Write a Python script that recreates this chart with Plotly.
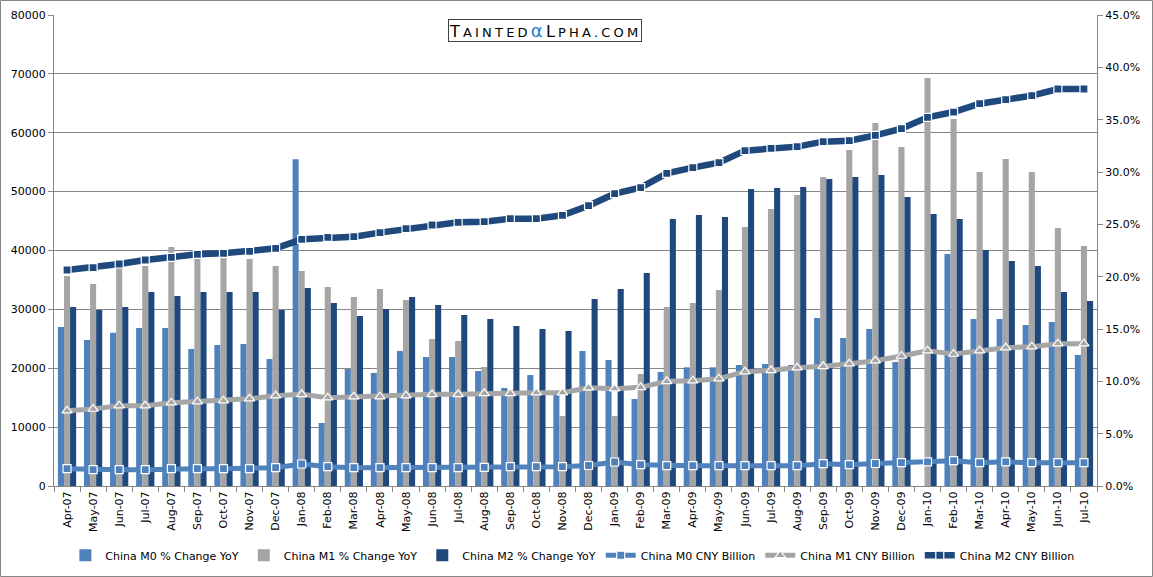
import plotly.graph_objects as go

months = [
    "Apr-07", "May-07", "Jun-07", "Jul-07", "Aug-07", "Sep-07", "Oct-07", "Nov-07", "Dec-07",
    "Jan-08", "Feb-08", "Mar-08", "Apr-08", "May-08", "Jun-08", "Jul-08", "Aug-08", "Sep-08",
    "Oct-08", "Nov-08", "Dec-08",
    "Jan-09", "Feb-09", "Mar-09", "Apr-09", "May-09", "Jun-09", "Jul-09", "Aug-09", "Sep-09",
    "Oct-09", "Nov-09", "Dec-09",
    "Jan-10", "Feb-10", "Mar-10", "Apr-10", "May-10", "Jun-10", "Jul-10",
]

# % change YoY (right axis)
m0_yoy = [15.19, 13.95, 14.65, 15.1, 15.1, 13.09, 13.47, 13.57, 12.13,
          31.21, 6.02, 11.18, 10.80, 12.90, 12.32, 12.32, 10.99, 9.36, 10.6, 8.69, 12.90,
          12.04, 8.31, 10.89, 11.34, 11.34, 11.56, 11.66, 11.56, 16.05, 14.14, 15.0, 11.85,
          -1.0, 22.17, 15.96, 15.96, 15.38, 15.67, 12.52]
m1_yoy = [20.06, 19.30, 20.83, 21.02, 22.83, 21.69, 21.75, 21.69, 21.02,
          20.54, 19.01, 18.06, 18.82, 17.77, 14.04, 13.85, 11.37, 9.2, 8.9, 6.69, 9.1,
          6.69, 10.7, 17.10, 17.48, 18.73, 24.74, 26.46, 27.80, 29.52, 32.10, 34.68, 32.39,
          38.98, 35.06, 30.0, 31.24, 30.0, 24.65, 22.93]
m2_yoy = [17.10, 16.81, 17.10, 18.53, 18.15, 18.53, 18.53, 18.53, 16.81,
          18.92, 17.48, 16.24, 16.91, 18.06, 17.29, 16.34, 15.96, 15.29, 15.0, 14.81, 17.87,
          18.82, 20.35, 25.51, 25.89, 25.70, 28.37, 28.47, 28.57, 29.33, 29.52, 29.71, 27.61,
          25.99, 25.51, 22.55, 21.50, 21.02, 18.53, 17.67]

# CNY billion (left axis)
m0_cny = [2940, 2770, 2770, 2770, 2940, 2940, 2940, 2940, 3110,
          3740, 3280, 3110, 3110, 3110, 3110, 3110, 3170, 3280, 3280, 3280, 3480,
          4080, 3620, 3450, 3450, 3450, 3450, 3450, 3450, 3790, 3620, 3820, 3960,
          4100, 4300, 3960, 4100, 3960, 3960, 3960]
m1_cny = [12790, 13080, 13650, 13650, 14150, 14320, 14490, 14830, 15340,
          15570, 15000, 15170, 15170, 15340, 15570, 15570, 15740, 15740, 15850, 15850, 16700,
          16530, 16760, 17780, 17890, 18230, 19420, 19650, 20100, 20330, 20780, 21290, 22080,
          22980, 22420, 22980, 23490, 23660, 24170, 24170]
m2_cny = [36690, 37080, 37710, 38390, 38840, 39350, 39520, 39860, 40370,
          41900, 42240, 42350, 43030, 43710, 44330, 44790, 44900, 45400, 45400, 45980, 47610,
          49650, 50670, 53100, 54070, 54920, 56960, 57350, 57640, 58490, 58660, 59560, 60690,
          62620, 63520, 64940, 65620, 66300, 67430, 67430]

LIGHT = "#4f81bd"
GREY = "#a5a5a5"
NAVY = "#1f497d"
AXIS = "#868686"
FONT = "DejaVu Sans"

W, H = 1153, 577
ML, MR, MT, MB = 54, 56, 15, 91

fig = go.Figure()

for name, vals, col in [
    ("China M0 % Change YoY", m0_yoy, LIGHT),
    ("China M1 % Change YoY", m1_yoy, GREY),
    ("China M2 % Change YoY", m2_yoy, NAVY),
]:
    fig.add_trace(go.Bar(x=months, y=vals, name=name, marker_color=col,
                         marker_line_width=0, yaxis="y"))

for name, vals, col, sym, lw, ms in [
    ("China M0 CNY Billion", m0_cny, LIGHT, "square", 5, 8),
    ("China M1 CNY Billion", m1_cny, GREY, "triangle-up", 5, 9),
    ("China M2 CNY Billion", m2_cny, NAVY, "square", 6.5, 8),
]:
    fig.add_trace(go.Scatter(
        x=months, y=vals, name=name, yaxis="y2", mode="lines+markers",
        line=dict(color=col, width=lw),
        marker=dict(symbol=sym, size=ms, color=col, line=dict(color="white", width=1.2)),
    ))

fig.update_layout(
    width=W, height=H,
    margin=dict(l=ML, r=MR, t=MT, b=MB, autoexpand=False),
    paper_bgcolor="white", plot_bgcolor="white",
    font=dict(family=FONT, size=11, color="black"),
    barmode="group", bargap=0.3, bargroupgap=0,
    showlegend=True,
    legend=dict(orientation="h", x=0.497, xanchor="center", y=-0.147, yanchor="middle",
                font=dict(size=11), itemwidth=30, traceorder="normal"),
    xaxis=dict(type="category", range=[-0.5, len(months) - 0.5], tickangle=-90,
               showgrid=False, showline=True, automargin=False,
               linecolor=AXIS, ticks="outside", tickson="boundaries", ticklen=5,
               tickcolor=AXIS, tickfont=dict(size=11)),
    yaxis=dict(side="right", range=[0, 45], dtick=5, tickformat=".1f", ticksuffix="%",
               showgrid=False, showline=True, linecolor=AXIS, ticks="outside",
               ticklen=5, tickcolor=AXIS, zeroline=False, automargin=False),
    yaxis2=dict(side="left", overlaying="y", range=[0, 80000], dtick=10000, tickformat="d",
                showgrid=True, gridcolor=AXIS, gridwidth=1, showline=True, linecolor=AXIS,
                ticks="outside", ticklen=5, tickcolor=AXIS, zeroline=False,
                automargin=False),
)

# logo box
fig.add_annotation(
    xref="paper", yref="paper", x=(448 - ML) / (W - ML - MR), y=(H - MB - 19) / (H - MT - MB),
    xanchor="left", yanchor="top", showarrow=False,
    text=("<span style='letter-spacing:3.2px'><span style='font-size:16px'>T</span>AINTED"
          "<span style='font-size:18px;color:#1e7fd2'>α</span>"
          "<span style='font-size:16px'>L</span>PHA.COM</span>"),
    font=dict(family="DejaVu Sans", size=13, color="black"),
    bordercolor="#404040", borderwidth=1, borderpad=0, bgcolor="white",
)

# outer frame
pw, ph = W - ML - MR, H - MT - MB
fig.add_shape(type="rect", xref="paper", yref="paper",
              x0=-(ML - 0.5) / pw, x1=1 + (MR - 0.5) / pw,
              y0=-(MB - 0.5) / ph, y1=1 + (MT - 0.5) / ph,
              line=dict(color=AXIS, width=1), layer="below")

fig.write_html("out.html", config={"displayModeBar": False},
               post_script="document.body.style.margin='0';")
